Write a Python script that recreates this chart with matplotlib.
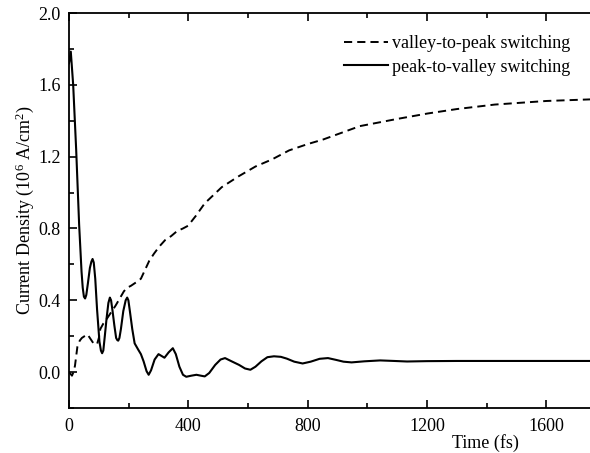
import matplotlib
matplotlib.use("Agg")
import matplotlib.pyplot as plt
from matplotlib.ticker import MultipleLocator

plt.rcParams['font.family'] = ['Liberation Serif', 'DejaVu Serif']
plt.rcParams['mathtext.fontset'] = 'custom'
plt.rcParams['mathtext.rm'] = 'Liberation Serif'
plt.rcParams['mathtext.it'] = 'Liberation Serif:italic'
plt.rcParams['mathtext.default'] = 'regular'

# peak-to-valley switching (solid)
t_pv = [0, 6, 14, 24, 34, 42, 46, 50, 54, 58, 63, 70, 75, 79, 83, 88, 94, 102, 107, 111,
        115, 120, 126, 132, 137, 141, 146, 152, 158, 162, 165, 169, 174, 182, 190, 195,
        199, 204, 212, 220, 232, 241, 250, 260, 267, 275, 287, 300, 310, 320, 334, 348,
        358, 370, 382, 393, 410, 427, 442, 455, 470, 490, 508, 523, 545, 570, 590, 608,
        625, 645, 665, 687, 710, 730, 755, 783, 810, 840, 868, 895, 920, 947, 990, 1043,
        1090, 1133, 1200, 1300, 1400, 1500, 1600, 1770]
j_pv = [1.72, 1.785, 1.60, 1.24, 0.82, 0.56, 0.47, 0.42, 0.41, 0.43, 0.49, 0.58, 0.615,
        0.63, 0.61, 0.52, 0.35, 0.17, 0.12, 0.105, 0.12, 0.20, 0.30, 0.385, 0.415, 0.40,
        0.34, 0.26, 0.19, 0.178, 0.175, 0.19, 0.24, 0.34, 0.40, 0.415, 0.40, 0.34, 0.24,
        0.16, 0.125, 0.10, 0.06, 0.005, -0.015, 0.01, 0.07, 0.10, 0.09, 0.08, 0.11, 0.133,
        0.10, 0.03, -0.015, -0.026, -0.02, -0.015, -0.02, -0.024, -0.005, 0.04, 0.07,
        0.078, 0.06, 0.04, 0.02, 0.013, 0.03, 0.06, 0.083, 0.088, 0.085, 0.075, 0.058,
        0.048, 0.058, 0.074, 0.078, 0.068, 0.058, 0.054, 0.06, 0.065, 0.062, 0.059,
        0.061, 0.062, 0.062, 0.062, 0.062, 0.062]

# valley-to-peak switching (dashed)
t_vp = [0, 5, 10, 15, 20, 28, 36, 43, 52, 62, 70, 82, 94, 100, 105, 115, 128, 142, 156,
        170, 184, 195, 207, 225, 241, 255, 269, 285, 303, 322, 342, 362, 382, 399, 425,
        455, 512, 568, 625, 681, 738, 800, 851, 975, 1100, 1201, 1300, 1427, 1600, 1766]
j_vp = [0.0, -0.01, -0.02, 0.0, 0.035, 0.14, 0.175, 0.19, 0.20, 0.21, 0.19, 0.16, 0.155,
        0.19, 0.24, 0.27, 0.30, 0.335, 0.37, 0.41, 0.45, 0.47, 0.48, 0.50, 0.52, 0.57,
        0.62, 0.66, 0.70, 0.735, 0.757, 0.785, 0.80, 0.815, 0.87, 0.94, 1.03, 1.09,
        1.145, 1.185, 1.235, 1.27, 1.295, 1.37, 1.41, 1.44, 1.465, 1.49, 1.51, 1.52]

x_ticks = [0, 400, 800, 1200, 1600]
y_ticks = [0.0, 0.4, 0.8, 1.2, 1.6, 2.0]
y_ticklabels = ['0.0', '0.4', '0.8', '1.2', '1.6', '2.0']

FS = 13

fig = plt.figure(figsize=(5.9, 4.53), dpi=100)
ax = fig.add_axes([69/590, 1-408/453, 1-69/590 + 0.01, (408-13)/453])

ax.plot(t_vp, j_vp, color='black', lw=1.4, dashes=(4.2, 2.6), label='valley-to-peak switching')
ax.plot(t_pv, j_pv, color='black', lw=1.5, label='peak-to-valley switching')

ax.set_xlim(0, 1766)
ax.set_ylim(-0.2, 2.0)
ax.set_xticks(x_ticks)
ax.set_xticklabels([str(v) for v in x_ticks])
ax.set_yticks(y_ticks)
ax.set_yticklabels(y_ticklabels)
ax.xaxis.set_minor_locator(MultipleLocator(200))
ax.yaxis.set_minor_locator(MultipleLocator(0.2))

ax.spines['right'].set_visible(False)
for s in ['left', 'bottom', 'top']:
    ax.spines[s].set_linewidth(1.3)

ax.tick_params(which='both', direction='in', top=True, right=False, labelsize=FS,
               width=1.2, colors='black')
ax.tick_params(which='major', length=6)
ax.tick_params(which='minor', length=3.5)
ax.tick_params(axis='x', pad=7)
ax.tick_params(axis='y', pad=6)

ax.set_ylabel('Current Density (10$^{6}$ A/cm$^{2}$)', fontsize=FS)
ax.yaxis.set_label_coords(-0.062, 0.5)
ax.set_xlabel('Time (fs)', fontsize=FS)
ax.xaxis.set_label_coords(0.79, -0.065)

leg = ax.legend(loc='upper right', bbox_to_anchor=(0.962, 0.957), frameon=False,
                fontsize=FS, handlelength=2.4, handletextpad=0.25, labelspacing=0.35,
                borderaxespad=0, borderpad=0.3)

fig.savefig('out.png', dpi=100)
